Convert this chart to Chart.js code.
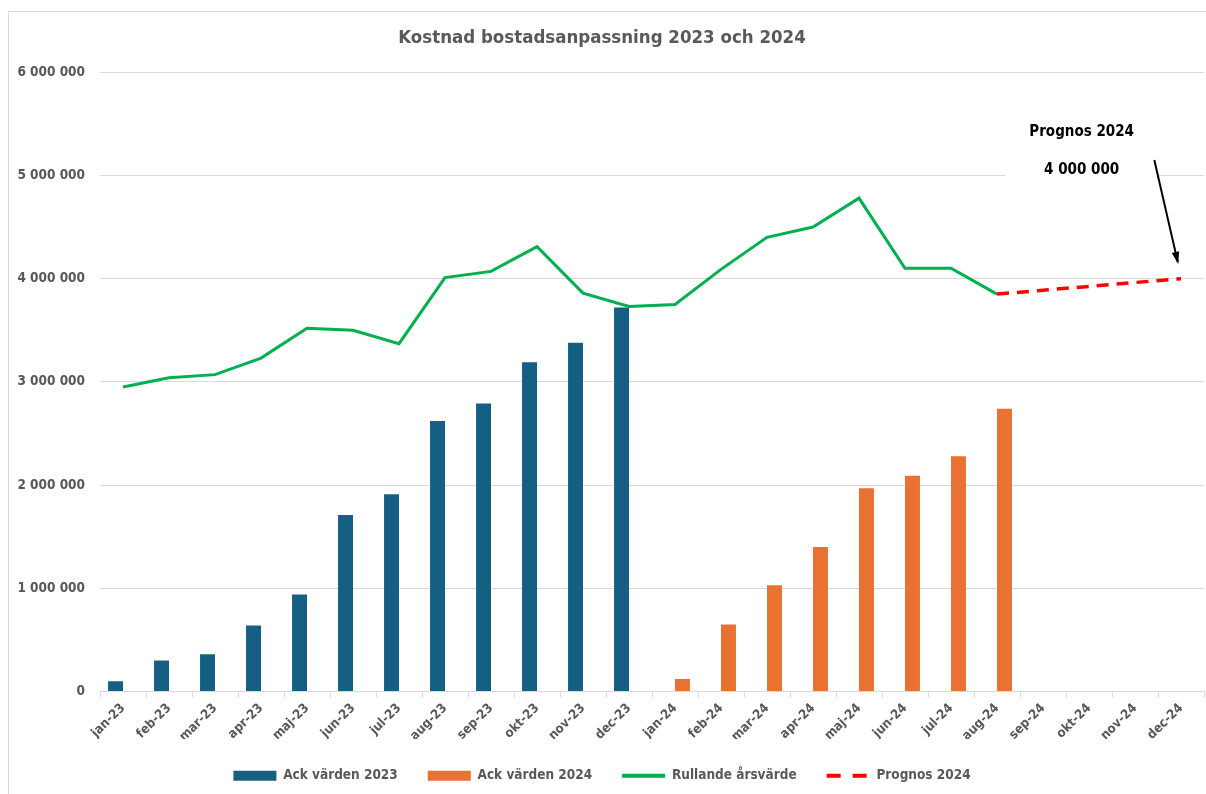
<!DOCTYPE html>
<html>
<head>
<meta charset="utf-8">
<script src="https://cdn.jsdelivr.net/npm/chart.js@4/dist/chart.umd.min.js"></script>
<style>
  html, body { margin: 0; padding: 0; background: #fff; }
  #wrap { width: 1206px; height: 794px; }
</style>
</head>
<body>
<div id="wrap"><canvas id="kostnad"></canvas></div>
<script>
  const months = [
    'jan-23', 'feb-23', 'mar-23', 'apr-23', 'maj-23', 'jun-23',
    'jul-23', 'aug-23', 'sep-23', 'okt-23', 'nov-23', 'dec-23',
    'jan-24', 'feb-24', 'mar-24', 'apr-24', 'maj-24', 'jun-24',
    'jul-24', 'aug-24', 'sep-24', 'okt-24', 'nov-24', 'dec-24'
  ];

  const ack2023 = [100000, 300000, 360000, 640000, 940000, 1710000,
    1910000, 2620000, 2790000, 3190000, 3380000, 3720000,
    null, null, null, null, null, null, null, null, null, null, null, null];

  const ack2024 = [null, null, null, null, null, null, null, null, null, null, null, null,
    120000, 650000, 1030000, 1400000, 1970000, 2090000,
    2280000, 2740000, null, null, null, null];

  const rullande = [2950000, 3040000, 3070000, 3230000, 3520000, 3500000,
    3370000, 4010000, 4070000, 4310000, 3860000, 3730000,
    3750000, 4090000, 4400000, 4500000, 4780000, 4100000,
    4100000, 3850000, null, null, null, null];

  const prognos = [null, null, null, null, null, null, null, null, null, null, null, null,
    null, null, null, null, null, null, null, 3850000, null, null, null, 4000000];

  const yTicks = [0, 1000000, 2000000, 3000000, 4000000, 5000000, 6000000];

  const legendOrder = ['Ack värden 2023', 'Ack värden 2024', 'Rullande årsvärde', 'Prognos 2024'];

  const textGrey = '#595959';
  const fontFam = '"Liberation Sans Narrow", "DejaVu Sans Condensed", "Liberation Sans", sans-serif';

  const fmt = (v) => String(v).replace(/\B(?=(\d{3})+(?!\d))/g, ' ');

  const frame = {
    id: 'frame',
    beforeDraw: (chart) => {
      const {ctx} = chart;
      ctx.save();
      ctx.fillStyle = '#ffffff';
      ctx.fillRect(0, 0, chart.width, chart.height);
      ctx.strokeStyle = '#d9d9d9';
      ctx.lineWidth = 1;
      ctx.strokeRect(8.5, 11.5, chart.width, chart.height);
      ctx.restore();
    }
  };

  // textruta + pil för prognosen
  const note = {
    id: 'note',
    afterDraw: (chart) => {
      const {ctx, scales: {x, y}} = chart;
      const step = x.getPixelForValue(1) - x.getPixelForValue(0);
      const at = (i) => x.getPixelForValue(Math.floor(i)) + (i - Math.floor(i)) * step;
      const cx = at(20.84);
      ctx.save();
      ctx.fillStyle = '#ffffff';
      ctx.fillRect(cx - 76, y.getPixelForValue(5560000), 152, y.getPixelForValue(4860000) - y.getPixelForValue(5560000));
      ctx.fillStyle = '#000000';
      ctx.font = 'bold 15px ' + fontFam;
      ctx.textAlign = 'center';
      ctx.textBaseline = 'middle';
      ctx.fillText('Prognos 2024', cx, y.getPixelForValue(5420000));
      ctx.fillText(fmt(4000000), cx, y.getPixelForValue(5050000));

      const x1 = at(22.42), y1 = y.getPixelForValue(5150000);
      const x2 = at(22.93), y2 = y.getPixelForValue(4160000);
      ctx.strokeStyle = '#000000';
      ctx.lineWidth = 2;
      ctx.beginPath();
      ctx.moveTo(x1, y1);
      ctx.lineTo(x2, y2);
      ctx.stroke();
      const ang = Math.atan2(y2 - y1, x2 - x1);
      ctx.beginPath();
      ctx.moveTo(x2 + 2 * Math.cos(ang), y2 + 2 * Math.sin(ang));
      ctx.lineTo(x2 - 11 * Math.cos(ang - 0.35), y2 - 11 * Math.sin(ang - 0.35));
      ctx.lineTo(x2 - 11 * Math.cos(ang + 0.35), y2 - 11 * Math.sin(ang + 0.35));
      ctx.closePath();
      ctx.fill();
      ctx.restore();
    }
  };

  const config = {
    type: 'bar',
    data: {
      labels: months,
      datasets: [
        {
          type: 'line',
          label: 'Rullande årsvärde',
          data: rullande,
          borderColor: '#00b050',
          backgroundColor: '#00b050',
          borderWidth: 3,
          pointRadius: 0,
          tension: 0,
          order: 1
        },
        {
          type: 'line',
          label: 'Prognos 2024',
          data: prognos,
          borderColor: '#ff0000',
          backgroundColor: '#ff0000',
          borderWidth: 3.5,
          borderDash: [12, 8],
          pointRadius: 0,
          spanGaps: true,
          tension: 0,
          order: 0
        },
        {
          label: 'Ack värden 2023',
          data: ack2023,
          backgroundColor: '#156082',
          categoryPercentage: 0.65,
          barPercentage: 1.0,
          order: 2
        },
        {
          label: 'Ack värden 2024',
          data: ack2024,
          backgroundColor: '#e97132',
          categoryPercentage: 0.65,
          barPercentage: 1.0,
          order: 3
        }
      ]
    },
    plugins: [frame, note],
    options: {
      responsive: true,
      maintainAspectRatio: false,
      animation: false,
      layout: { padding: { left: 0, right: 2, top: 0, bottom: 1.5 } },
      plugins: {
        title: {
          display: true,
          text: 'Kostnad bostadsanpassning 2023 och 2024',
          color: textGrey,
          font: { family: fontFam, size: 18.5, weight: 'bold' },
          padding: { top: 27, bottom: 23 }
        },
        legend: {
          position: 'bottom',
          labels: {
            color: textGrey,
            font: { family: fontFam, size: 13.5, weight: 'bold' },
            usePointStyle: true,
            pointStyleWidth: 43,
            boxHeight: 10,
            padding: 30,
            sort: (a, b) => legendOrder.indexOf(a.text) - legendOrder.indexOf(b.text),
            generateLabels: (chart) => {
              const items = Chart.defaults.plugins.legend.labels.generateLabels(chart);
              items.forEach((it) => {
                const k = legendOrder.indexOf(it.text);
                if (k < 2) {
                  it.pointStyle = 'rect';
                  it.lineWidth = 0;
                } else {
                  it.pointStyle = 'line';
                  it.lineWidth = 4;
                  it.lineDash = k === 3 ? [14, 12] : [];
                }
              });
              return items;
            }
          }
        },
        tooltip: { enabled: false }
      },
      scales: {
        x: {
          afterFit: (s) => { s.height = 47.5; },
          grid: {
            drawOnChartArea: false,
            color: '#d9d9d9',
            tickLength: 6
          },
          border: { color: '#d9d9d9' },
          ticks: {
            color: textGrey,
            autoSkip: false,
            minRotation: 45,
            maxRotation: 45,
            padding: 3,
            font: { family: fontFam, size: 13, weight: 'bold' }
          }
        },
        y: {
          min: 0,
          max: 6000000,
          afterFit: (s) => { s.width = 100; },
          afterBuildTicks: (s) => { s.ticks = yTicks.map((v) => ({ value: v })); },
          grid: {
            color: '#d9d9d9',
            drawTicks: false
          },
          border: { display: false },
          ticks: {
            color: textGrey,
            padding: 15,
            font: { family: fontFam, size: 13.5, weight: 'bold' },
            callback: (v) => fmt(v)
          }
        }
      }
    }
  };

  const kostnadChart = new Chart(document.getElementById('kostnad'), config);
</script>
</body>
</html>
